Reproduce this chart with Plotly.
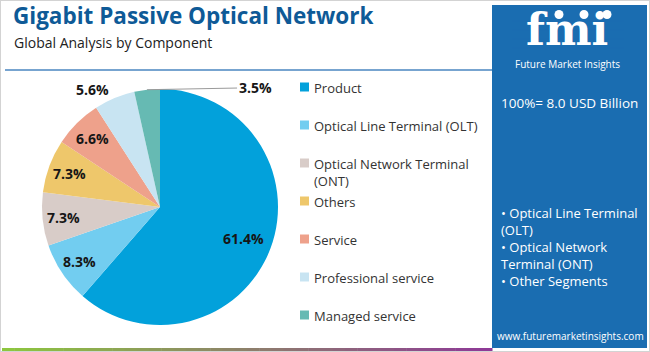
import math
import plotly.graph_objects as go

W, H = 650, 352

# ---- data ----
labels = ["Product", "Optical Line Terminal (OLT)", "Optical Network Terminal (ONT)",
          "Others", "Service", "Professional service", "Managed service"]
legend_text = ["Product", "Optical Line Terminal (OLT)", "Optical Network Terminal<br>(ONT)",
               "Others", "Service", "Professional service", "Managed service"]
values = [61.4, 8.3, 7.3, 7.3, 6.6, 5.6, 3.5]
colors = ["#02A1DB", "#72CDF0", "#D8CCC8", "#EEC76B", "#EEA18B", "#C8E4F2", "#66BAB3"]

title = "Gigabit Passive Optical Network"
subtitle = "Global Analysis by Component"
market_size = "100%= 8.0 USD Billion"
segments = ["• Optical Line Terminal", "(OLT)", "• Optical Network", "Terminal (ONT)", "• Other Segments"]
website = "www.futuremarketinsights.com"

FONT = "Open Sans"
PANEL = "#1A6DB1"


def px(x):
    return x / W


def py(y):
    return 1 - y / H


def text(x, y, t, size, color="white", family=FONT, xa="center", ya="middle", **kw):
    d = dict(x=px(x), y=py(y), text=t, showarrow=False, xanchor=xa, yanchor=ya,
             font=dict(family=family, size=size, color=color), xref="paper", yref="paper")
    d.update(kw)
    return d


# pie geometry (pixels)
CX, CY, R = 160, 207, 118

fig = go.Figure()
fig.add_trace(go.Pie(
    labels=labels, values=values, sort=False, direction="clockwise", rotation=0,
    marker=dict(colors=colors, line=dict(width=0)),
    textinfo="none", hoverinfo="label+percent", showlegend=False,
    domain=dict(x=[px(CX - R), px(CX + R)], y=[py(CY + R), py(CY - R)]),
))

ann = []
shapes = []

# slice labels computed from the values
total = sum(values)
cum = 0.0
LAB_COL = "#161616"
for i, v in enumerate(values):
    mid = (cum + v / 2) / total * 2 * math.pi
    cum += v
    s, c = math.sin(mid), math.cos(mid)
    txt = f"<b>{v:.1f}%</b>"
    if i == 0:
        r = 0.76 * R
        ann.append(text(CX + r * s, CY - r * c, txt, 14, LAB_COL))
    elif i == len(values) - 1:
        ex, ey = CX + R * s, CY - R * c
        ann.append(dict(x=px(ex), y=py(ey), text=txt, showarrow=True,
                        arrowhead=0, arrowwidth=1, arrowcolor="#9A9A9A", standoff=0,
                        ax=108, ay=-2, xanchor="center", yanchor="middle",
                        font=dict(family=FONT, size=14, color=LAB_COL),
                        xref="paper", yref="paper"))
    elif i == len(values) - 2:
        r = 1.08 * R
        ann.append(text(CX + r * s, CY - r * c, txt, 14, LAB_COL, xa="right"))
    else:
        r = 0.82 * R
        ann.append(text(CX + r * s, CY - r * c, txt, 14, LAB_COL))

# legend (custom)
LEG_X, LEG_Y0, LEG_DY = 300, 87, 38
for i, (t, col) in enumerate(zip(legend_text, colors)):
    y = LEG_Y0 + i * LEG_DY
    shapes.append(dict(type="rect", xref="paper", yref="paper",
                       x0=px(LEG_X), x1=px(LEG_X + 9), y0=py(y + 4.5), y1=py(y - 4.5),
                       fillcolor=col, line=dict(width=0)))
    ann.append(text(LEG_X + 12, y - 10, t, 13, "#333333", xa="left", ya="top", align="left"))

# title & subtitle
ann.append(text(11, 16, f"<b>{title}</b>", 22.5, "#0E5A97", xa="left"))
ann.append(text(12, 42, subtitle, 14, "#222222", xa="left"))

# separator line
shapes.append(dict(type="line", xref="paper", yref="paper", x0=px(5), x1=px(492),
                   y0=py(70), y1=py(70), line=dict(color="#4A86C0", width=1.5)))

# right panel
shapes.append(dict(type="rect", xref="paper", yref="paper", x0=px(492), x1=px(647),
                   y0=py(348), y1=py(5), fillcolor=PANEL, line=dict(width=0), layer="below"))

# logo
ann.append(text(567, 30, "<b>fmi</b>", 44, family="DejaVu Serif"))
for k in range(7):
    yy = 21 + k * 4.5
    shapes.append(dict(type="line", xref="paper", yref="paper", x0=px(512), x1=px(624),
                       y0=py(yy), y1=py(yy), line=dict(color=PANEL, width=1)))
for cxl in (559, 584, 607):
    shapes.append(dict(type="circle", xref="paper", yref="paper",
                       x0=px(cxl - 4.5), x1=px(cxl + 4.5), y0=py(19), y1=py(10),
                       fillcolor="white", line=dict(width=0)))
ann.append(text(567, 64, "Future Market Insights", 10))

ann.append(text(569, 103, market_size, 13.5))
ann.append(text(499, 202, "<br>".join(segments), 13, xa="left", ya="top", align="left"))
ann.append(text(570, 336, website, 10))

# bottom gradient bar (green -> purple)
c0, c1 = (141, 198, 63), (142, 58, 150)
N = 40
x_start, x_end = 2, 492
for k in range(N):
    t = k / (N - 1)
    col = tuple(int(round(c0[j] + (c1[j] - c0[j]) * t)) for j in range(3))
    xa = x_start + (x_end - x_start) * k / N
    xb = x_start + (x_end - x_start) * (k + 1) / N
    shapes.append(dict(type="rect", xref="paper", yref="paper", x0=px(xa), x1=px(xb + 0.5),
                       y0=py(352), y1=py(348), fillcolor=f"rgb{col}", line=dict(width=0)))

# outer border
shapes.append(dict(type="rect", xref="paper", yref="paper", x0=0, x1=1, y0=0, y1=1,
                   line=dict(color="#D3D3D3", width=2), fillcolor="rgba(0,0,0,0)"))

fig.update_layout(
    width=W, height=H, margin=dict(l=0, r=0, t=0, b=0),
    paper_bgcolor="white", plot_bgcolor="white",
    annotations=ann, shapes=shapes, showlegend=False,
)
fig.write_html("out.html")
